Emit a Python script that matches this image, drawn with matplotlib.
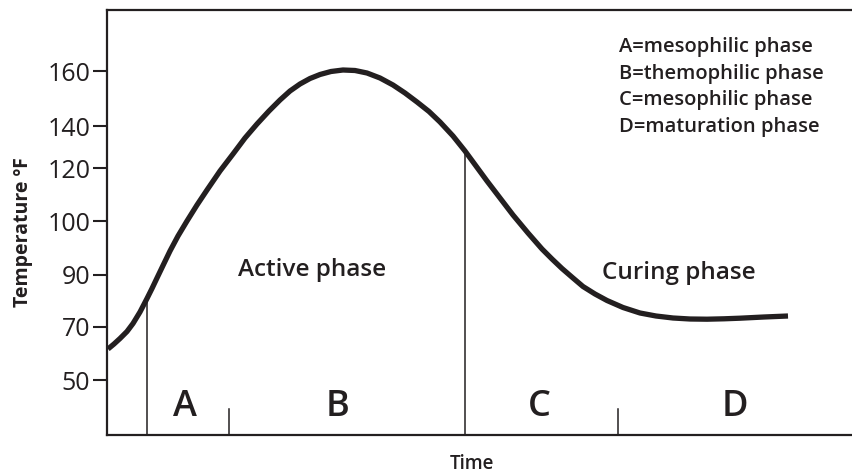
import matplotlib
matplotlib.use("Agg")
import matplotlib.pyplot as plt

# time (arbitrary units) and temperature (position on the drawn scale)
time = [1, 7, 13, 20, 26, 33, 40, 45, 50, 56, 63, 71, 80, 90, 100, 113, 126,
        138, 150, 162, 173, 183, 193, 203, 213, 224, 236, 248, 260, 273, 286,
        298, 310, 322, 333, 346, 358, 369, 380, 393, 406, 421, 435, 445, 455,
        466, 476, 488, 500, 516, 533, 549, 566, 583, 600, 617, 633, 657, 681]
temp = [86, 91, 96.5, 103.5, 111.5, 123, 136.5, 146.5, 157, 169.5, 184, 199,
        214, 230, 245, 264, 281, 297, 311, 324, 335, 344, 351, 356.5, 360.5,
        363.5, 365, 364.5, 362, 357, 350, 342, 333, 323.5, 313, 299, 284, 269,
        254, 237, 220, 202, 186, 176, 166.5, 157, 148.5, 141, 134.5, 127.5,
        122, 119, 117, 116, 115.8, 116.2, 116.8, 118, 119]

tick_pos = [55, 108, 160, 214, 267, 309, 364]
tick_labels = ["50", "70", "90", "100", "120", "140", "160"]

# phase boundaries: full lines up to the curve, short ticks between them
full_lines = [(40, 137), (358, 284)]
short_ticks = [122, 511]
phase_letters = ["A", "B", "C", "D"]
letter_x = [78, 231, 432, 628]

legend_lines = ["A=mesophilic phase", "B=themophilic phase",
                "C=mesophilic phase", "D=maturation phase"]

ink = "#231f20"
plt.rcParams["font.family"] = ["Open Sans", "DejaVu Sans"]

fig = plt.figure(figsize=(8.52, 4.74), dpi=100)
ax = fig.add_axes([107 / 852, 1 - 435 / 474, 1 - 107 / 852, 425 / 474])
ax.set_xlim(0, 745)
ax.set_ylim(0, 425)

ax.plot(time, temp, color=ink, lw=3.8, solid_joinstyle="round",
        solid_capstyle="butt", clip_on=False)

for x, top in full_lines:
    ax.plot([x, x], [0, top], color=ink, lw=1.1)
for x in short_ticks:
    ax.plot([x, x], [0, 26], color=ink, lw=1.1)

for x, s in zip(letter_x, phase_letters):
    ax.text(x, 28, s, fontsize=26, fontweight="semibold", color=ink,
            ha="center", va="center")

ax.text(205, 165, "Active phase", fontsize=17.5, fontweight="semibold",
        color=ink, ha="center", va="center")
ax.text(572, 162, "Curing phase", fontsize=17.5, fontweight="semibold",
        color=ink, ha="center", va="center")

for i, s in enumerate(legend_lines):
    ax.text(512, 388 - i * 26.7, s, fontsize=14.5, fontweight="semibold",
            color=ink, ha="left", va="center")

ax.set_yticks(tick_pos)
ax.set_yticklabels(tick_labels, fontsize=18, color=ink)
ax.set_xticks([])
ax.tick_params(axis="y", direction="out", length=10, width=1.5,
               color=ink, pad=2)

for side in ["left", "bottom", "top"]:
    ax.spines[side].set_color(ink)
    ax.spines[side].set_linewidth(1.6)
ax.spines["right"].set_visible(False)

fig.text(23 / 852, 1 - 232 / 474, "Temperature \u00baF", rotation=90,
         fontsize=14, fontweight="bold", color=ink, ha="center", va="center")
fig.text(472 / 852, 1 - 464 / 474, "Time", fontsize=13.5,
         fontweight="semibold", color=ink, ha="center", va="center")

fig.savefig("out.png", dpi=100)
